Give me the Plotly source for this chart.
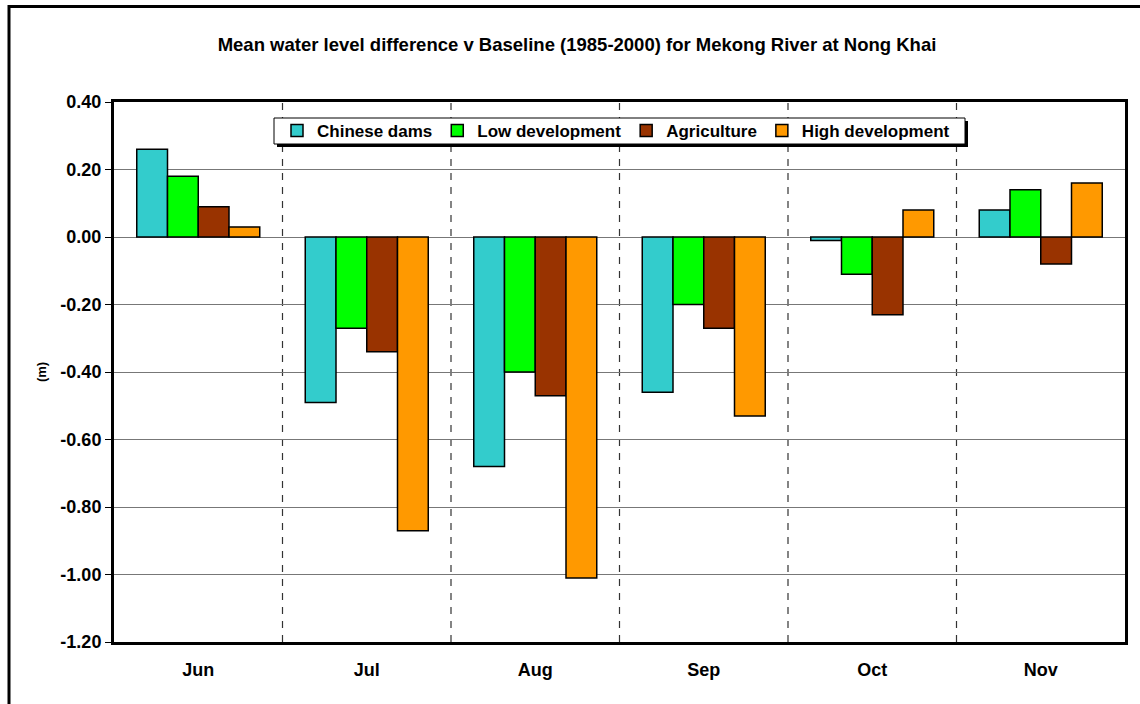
import plotly.graph_objects as go

# data
months = ["Jun", "Jul", "Aug", "Sep", "Oct", "Nov"]
chinese_dams = [0.26, -0.49, -0.68, -0.46, -0.01, 0.08]
low_development = [0.18, -0.27, -0.40, -0.20, -0.11, 0.14]
agriculture = [0.09, -0.34, -0.47, -0.27, -0.23, -0.08]
high_development = [0.03, -0.87, -1.01, -0.53, 0.08, 0.16]

series = [("Chinese dams", chinese_dams, "#33CCCC"),
          ("Low development", low_development, "#00FF00"),
          ("Agriculture", agriculture, "#993300"),
          ("High development", high_development, "#FF9900")]

font = "Liberation Sans, Arial, sans-serif"

fig = go.Figure()
for name, vals, col in series:
    fig.add_trace(go.Bar(x=months, y=vals, name="<b>%s</b>" % name,
                         marker=dict(color=col, line=dict(color="black", width=1.5))))

# dashed separators between months
for i in range(len(months) - 1):
    fig.add_shape(type="line", xref="x", yref="paper", x0=i + 0.5, x1=i + 0.5, y0=0, y1=1,
                  line=dict(color="#333333", width=1.2, dash="7px,7px"), layer="below")

# pixel -> paper helpers
W, H = 1140, 704
l, r, t, b = 114, 15, 102, 62
pw, ph = W - l - r, H - t - b
def px_x(v): return (v - l) / pw
def px_y(v): return 1 - (v - t) / ph

# legend box with shadow (Excel style)
fig.add_shape(type="rect", xref="paper", yref="paper",
              x0=px_x(277), x1=px_x(968), y0=px_y(147), y1=px_y(121),
              fillcolor="black", line=dict(width=0), layer="above")
fig.add_shape(type="rect", xref="paper", yref="paper",
              x0=px_x(274), x1=px_x(965), y0=px_y(144), y1=px_y(118),
              fillcolor="white", line=dict(color="black", width=1), layer="above")

# outer chart border (clipped at right/bottom like the original)
fig.add_shape(type="rect", xref="paper", yref="paper",
              x0=px_x(9), x1=px_x(1160), y0=px_y(730), y1=px_y(6.5),
              line=dict(color="black", width=3))

fig.update_layout(
    width=W, height=H,
    margin=dict(l=l, r=r, t=t, b=b),
    paper_bgcolor="white", plot_bgcolor="white",
    font=dict(family=font, color="black", size=18),
    title=dict(text="<b>Mean water level difference v Baseline (1985-2000) for Mekong River at Nong Khai</b>",
               x=577 / W, xanchor="center", y=1 - 45 / H, yanchor="middle",
               font=dict(size=18.5)),
    barmode="group", bargap=0.27, bargroupgap=0,
    showlegend=True,
    legend=dict(orientation="h", x=px_x(277), y=px_y(131), xanchor="left", yanchor="middle",
                bgcolor="rgba(0,0,0,0)", borderwidth=0,
                font=dict(size=17), itemwidth=30, traceorder="normal"),
)
fig.update_xaxes(showgrid=False, showline=True, linecolor="black", linewidth=3, mirror=True,
                 ticks="", tickfont=dict(size=18), ticklabelstandoff=9,
                 tickvals=months, ticktext=["<b>%s</b>" % m for m in months])
tick_vals = [0.4, 0.2, 0.0, -0.2, -0.4, -0.6, -0.8, -1.0, -1.2]
fig.update_yaxes(range=[-1.2, 0.4], tickvals=tick_vals,
                 ticktext=["<b>%.2f</b>" % v for v in tick_vals],
                 showgrid=True, gridcolor="#777777", gridwidth=1,
                 zeroline=True, zerolinecolor="#777777", zerolinewidth=1,
                 showline=True, linecolor="black", linewidth=3, mirror=True,
                 ticks="outside", ticklen=6, tickcolor="black", tickwidth=1,
                 tickfont=dict(size=18),
                 title=dict(text="<b>(m)</b>", font=dict(size=13), standoff=11))

fig.write_html("out.html", config={"displayModeBar": False},
               post_script="document.body.style.margin='0';")
